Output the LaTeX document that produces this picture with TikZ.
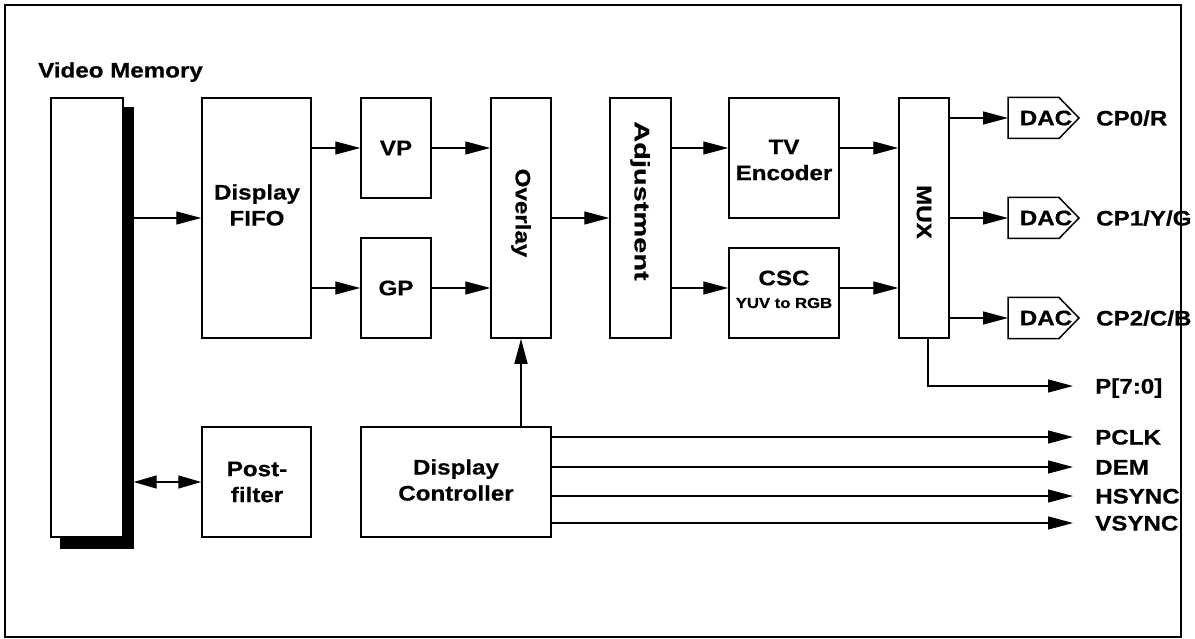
\documentclass[tikz,border=0pt]{standalone}
\usepackage{fontspec}
\setmainfont{Liberation Sans}[FakeStretch=1.15, BoldFeatures={FakeBold=0.6}]
\usetikzlibrary{arrows.meta}
\begin{document}
\begin{tikzpicture}[x=1pt,y=-1pt,
  blk/.style={draw, line width=1.5pt, fill=white, inner sep=0pt},
  txt/.style={font=\bfseries\fontsize{21}{26}\selectfont, align=center, inner sep=0pt},
  small/.style={font=\bfseries\fontsize{14.5}{16}\selectfont, align=center, inner sep=0pt},
  lab/.style={font=\bfseries\fontsize{21}{24}\selectfont, anchor=west, inner sep=0pt, text height=15pt, text depth=0pt},
  arr/.style={line width=1.4pt, -{Triangle[length=25pt,width=13pt]}},
  darr/.style={line width=1.4pt, {Triangle[length=23pt,width=13pt]}-{Triangle[length=23pt,width=13pt]}},
  dacs/.style={draw, line width=1.5pt, fill=white, line join=miter}
]
\useasboundingbox (0,0) rectangle (1195,639);
\draw[line width=2pt] (5,5) rectangle (1181,637);

% video memory
\node[lab] (vmlab) at (38,70) {Video Memory};
\node[draw, fill=black, line width=1.4pt, inner sep=0pt, minimum width=72pt, minimum height=440pt] (vmsh) at (97,328) {};
\node[blk, minimum width=72pt, minimum height=439pt] (vm) at (87,317.5) {};

% blocks
\node[blk, minimum width=109pt, minimum height=240pt] (fifo) at (256.5,218) {};
\node[txt] (fifot) at (257,205) {Display\\FIFO};
\node[blk, minimum width=70pt, minimum height=100pt] (vp) at (396,148) {};
\node[txt] (vpt) at (396,148) {VP};
\node[blk, minimum width=70pt, minimum height=100pt] (gp) at (396,288) {};
\node[txt] (gpt) at (396,288) {GP};
\node[blk, minimum width=60pt, minimum height=240pt] (ovl) at (521,218) {};
\node[txt, rotate=-90] (ovlt) at (521,213) {Overlay};
\node[blk, minimum width=61pt, minimum height=240pt] (adj) at (640.5,218) {};
\node[txt, rotate=-90] (adjt) at (640,201) {\scalebox{1.2}[1]{Adjustment}};
\node[blk, minimum width=110pt, minimum height=120pt] (tv) at (784,158) {};
\node[txt] (tvt) at (784,160) {TV\\Encoder};
\node[blk, minimum width=110pt, minimum height=90pt] (csc) at (784,293) {};
\node[txt] (csct) at (784,278) {CSC};
\node[small] (csct2) at (784,303) {YUV to RGB};
\node[blk, minimum width=50pt, minimum height=240pt] (mux) at (924,218) {};
\node[txt, rotate=-90] (muxt) at (924,212) {MUX};
\node[blk, minimum width=109pt, minimum height=110pt] (post) at (256.5,482) {};
\node[txt] (postt) at (257,482) {Post-\\filter};
\node[blk, minimum width=190pt, minimum height=110pt] (ctrl) at (456,482) {};
\node[txt] (ctrlt) at (456,480) {Display\\Controller};

% DACs
\coordinate (dac1) at (1008,118);
\coordinate (dac2) at (1008,218);
\coordinate (dac3) at (1008,318);
\foreach \d in {dac1,dac2,dac3}
  \draw[dacs] (\d) ++(0,-20.5) -- ++(51,0) -- ++(20,20.5) -- ++(-20,20.5) -- ++(-51,0) -- cycle;
\node[txt] (dac1t) at (1046,118) {DAC};
\node[txt] (dac2t) at (1046,218) {DAC};
\node[txt] (dac3t) at (1046,318) {DAC};

% output labels
\node[lab] (cp0) at (1096,118) {CP0/R};
\node[lab] (cp1) at (1096,218) {CP1/Y/G};
\node[lab] (cp2) at (1096,318) {CP2/C/B};
\node[lab] (plab) at (1095,386) {P[7:0]};
\node[lab] (pclk) at (1095,437) {PCLK};
\node[lab] (dem) at (1095,467) {DEM};
\node[lab] (hsync) at (1095,496) {HSYNC};
\node[lab] (vsync) at (1095,523) {VSYNC};

% connectors
\draw[arr] (vmsh.east |- fifo.west) -- (fifo.west);
\draw[darr] (vmsh.east |- post.west) -- (post.west);
\draw[arr] (fifo.east |- vp.west) -- (vp.west);
\draw[arr] (fifo.east |- gp.west) -- (gp.west);
\draw[arr] (vp.east) -- (vp.east -| ovl.west);
\draw[arr] (gp.east) -- (gp.east -| ovl.west);
\draw[arr] (ovl.east) -- (adj.west);
\draw[arr] (adj.east |- vp.east) -- (tv.west |- vp.east);
\draw[arr] (adj.east |- gp.east) -- (csc.west |- gp.east);
\draw[arr] (tv.east |- vp.east) -- (mux.west |- vp.east);
\draw[arr] (csc.east |- gp.east) -- (mux.west |- gp.east);
\draw[arr] (mux.east |- dac1) -- (dac1);
\draw[arr] (mux.east |- dac2) -- (dac2);
\draw[arr] (mux.east |- dac3) -- (dac3);
\draw[arr] ([xshift=4pt]mux.south) |- ([xshift=-22pt]plab.west);
\draw[arr] (ovl.south |- ctrl.north) -- (ovl.south);
\draw[arr] (ctrl.east |- pclk.west) -- ([xshift=-22pt]pclk.west);
\draw[arr] (ctrl.east |- dem.west) -- ([xshift=-22pt]dem.west);
\draw[arr] (ctrl.east |- hsync.west) -- ([xshift=-22pt]hsync.west);
\draw[arr] (ctrl.east |- vsync.west) -- ([xshift=-22pt]vsync.west);
\end{tikzpicture}
\end{document}
